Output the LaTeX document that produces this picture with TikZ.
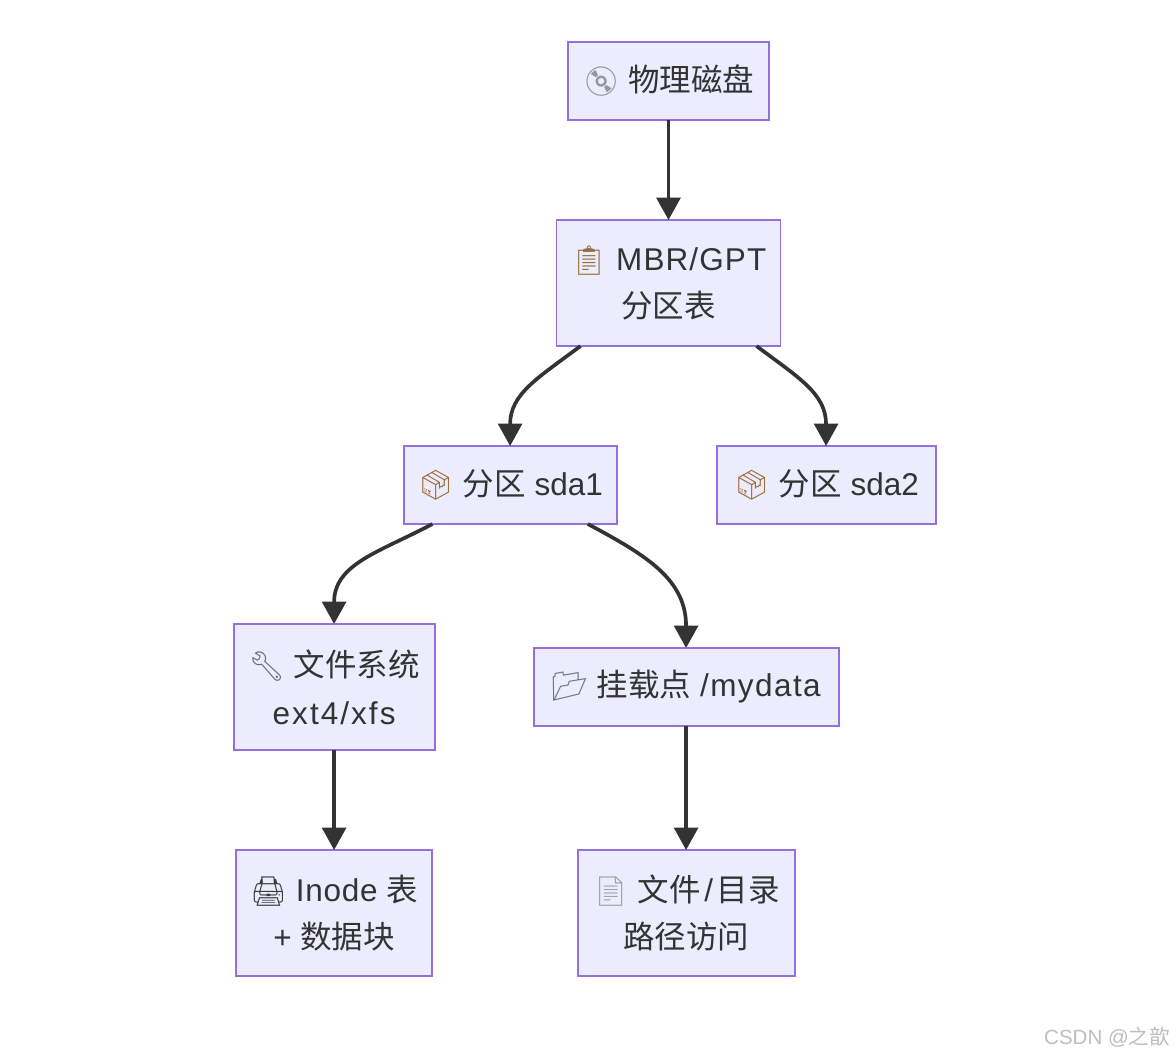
\documentclass[tikz,border=0pt]{standalone}
\usepackage{fontspec}
\setmainfont{Liberation Sans}
\newfontfamily\cjkfont{Noto Sans CJK SC}
\newfontfamily\emojifont{Noto Emoji}
\usepackage{xcolor}
\usetikzlibrary{positioning,arrows.meta}
\definecolor{nodefill}{RGB}{236,236,255}
\definecolor{nodeborder}{RGB}{147,112,219}
\definecolor{inkgray}{RGB}{51,51,51}
\definecolor{markgray}{RGB}{190,190,190}
\definecolor{discgray}{RGB}{150,150,150}
\definecolor{clipbrown}{RGB}{150,110,60}
\definecolor{boxbrown}{RGB}{160,110,60}
\definecolor{toolgray}{RGB}{105,105,115}
\definecolor{foldergray}{RGB}{110,120,130}
\definecolor{printgray}{RGB}{60,60,60}
\definecolor{pagegray}{RGB}{160,160,160}
\newcommand{\zh}[1]{{\cjkfont #1}}
\newcommand{\lat}[2]{{\addfontfeature{LetterSpace=#1}#2}}
\newcommand{\icon}[2]{{\color{#1}\fontsize{20.6}{34}\selectfont\emojifont #2}}

\begin{document}
\begin{tikzpicture}[
        box/.style={rectangle, draw=nodeborder, fill=nodefill, line width=1.4pt,
                   align=center, text=inkgray, inner sep=0pt, outer sep=0pt,
                   minimum height=1.95cm, font=\fontsize{22.4}{34}\selectfont},
        tallbox/.style={box, minimum height=3.15cm},
        arrow/.style={-{Triangle[length=16pt,width=17pt]}, line width=2.6pt, inkgray}
    ]
        \useasboundingbox (-16.7125,2.025) rectangle (12.6875,-24.375);

        \node[box, minimum width=5.025cm] (disk) {\icon{discgray}{💿} \zh{物理磁盘}};
        \node[tallbox, minimum width=5.6cm, below=2.5cm of disk] (mbr) {\icon{clipbrown}{📋} \lat{3.5}{MBR/GPT}\\\zh{分区表}};
        \node[box, minimum width=5.325cm, below=2.5cm of mbr, xshift=-3.96cm] (sda1) {\icon{boxbrown}{📦} \zh{分区} sda1};
        \node[box, minimum width=5.475cm, right=2.5cm of sda1] (sda2) {\icon{boxbrown}{📦} \zh{分区} sda2};
        \node[tallbox, minimum width=5.025cm, below=2.5cm of sda1, xshift=-4.4cm] (fs) {\icon{toolgray}{🔧} \zh{文件系统}\\\lat{6.5}{ext4/xfs}};
        \node[box, minimum width=7.625cm, below=3.1cm of sda1, xshift=4.4cm] (mount) {\icon{foldergray}{📂} \zh{挂载点} \lat{4.5}{/mydata}};
        \node[tallbox, minimum width=4.9cm, below=2.5cm of fs] (inode) {\icon{printgray}{🖨} \lat{2.5}{Inode} \zh{表}\\+ \zh{数据块}};
        \node[tallbox, minimum width=5.425cm, below=3.1cm of mount] (file) {\icon{pagegray}{📄} \zh{文件}\kern2.5pt/\kern2.5pt\zh{目录}\\\zh{路径访问}};
        \node[anchor=east, text=markgray, font=\fontsize{14.6}{18}\selectfont] (mark) at (12.66,-23.9) {CSDN @\zh{之歆}};

        \draw[arrow] (disk) -- (mbr);
        \draw[arrow] ([xshift=0.6cm]mbr.south west) to[out=217,in=90,looseness=1.1] (sda1.north);
        \draw[arrow] ([xshift=-0.6cm]mbr.south east) to[out=-37,in=90,looseness=1.1] (sda2.north);
        \draw[arrow] ([xshift=0.72cm]sda1.south west) to[out=208,in=90,looseness=1.1] (fs.north);
        \draw[arrow] ([xshift=-0.72cm]sda1.south east) to[out=-28,in=90,looseness=1.1] (mount.north);
        \draw[arrow] (fs) -- (inode);
        \draw[arrow] (mount) -- (file);
    \end{tikzpicture}
\end{document}
